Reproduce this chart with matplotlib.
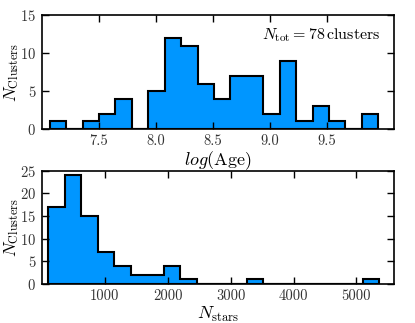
import numpy as np
import matplotlib
matplotlib.use("Agg")
import matplotlib.pyplot as plt

plt.rcParams['font.family'] = 'serif'
plt.rcParams['font.serif'] = ['cmr10']
plt.rcParams['mathtext.fontset'] = 'cm'
plt.rcParams['axes.formatter.use_mathtext'] = True
plt.rcParams['axes.unicode_minus'] = False

# Top panel: log(Age) histogram
age_lo, age_hi, age_nbins = 7.07, 9.95, 20
age_counts = [1, 0, 1, 2, 4, 0, 5, 12, 11, 6, 4, 7, 7, 2, 9, 1, 3, 1, 0, 2]
age_ticks = [7.5, 8.0, 8.5, 9.0, 9.5]
age_yticks = [0, 5, 10, 15]

# Bottom panel: N_stars histogram
ns_lo, ns_hi, ns_nbins = 100, 5360, 20
ns_counts = [17, 24, 15, 7, 4, 2, 2, 4, 1, 0, 0, 0, 1, 0, 0, 0, 0, 0, 0, 1]
ns_ticks = [1000, 2000, 3000, 4000, 5000]
ns_yticks = [0, 5, 10, 15, 20, 25]

color = '#0096FF'

fig = plt.figure(figsize=(4.15, 3.23), dpi=100)
ax1 = fig.add_axes([0.1005, 0.6006, 0.8495, 0.352])
ax2 = fig.add_axes([0.1005, 0.1207, 0.8495, 0.3508])

def draw(ax, lo, hi, n, counts):
    edges = np.linspace(lo, hi, n + 1)
    ax.hist(edges[:-1], bins=edges, weights=counts, histtype='stepfilled',
            facecolor=color, edgecolor='black', linewidth=1.5)

draw(ax1, age_lo, age_hi, age_nbins, age_counts)
draw(ax2, ns_lo, ns_hi, ns_nbins, ns_counts)

ax1.set_xlim(7.0, 10.09)
ax1.set_ylim(0, 15)
ax1.set_xticks(age_ticks)
ax1.set_xticklabels([f"{t:.1f}" for t in age_ticks])
ax1.set_yticks(age_yticks)
ax1.set_xlabel(r'$log(\rm Age)$', fontsize=13, labelpad=1)
ax1.set_ylabel(r'$N_{\rm Clusters}$', fontsize=12.5)
ax1.text(0.962, 0.827, r'$N_{\rm tot}=78\,{\rm clusters}$', transform=ax1.transAxes,
         ha='right', va='center', fontsize=11.5)

ax2.set_xlim(0, 5600)
ax2.set_ylim(0, 25)
ax2.set_xticks(ns_ticks)
ax2.set_xticklabels([str(t) for t in ns_ticks])
ax2.set_yticks(ns_yticks)
ax2.set_xlabel(r'$N_{\rm stars}$', fontsize=13, labelpad=1)
ax2.set_ylabel(r'$N_{\rm Clusters}$', fontsize=12.5)

for ax in (ax1, ax2):
    ax.tick_params(direction='in', top=True, right=True, length=5, width=1,
                   labelsize=10.5, pad=4, colors='black', labelcolor='#333333')
    ax.yaxis.set_label_coords(-0.058, 0.5)
    for s in ax.spines.values():
        s.set_linewidth(1.2)

fig.savefig('out.png', dpi=100)
